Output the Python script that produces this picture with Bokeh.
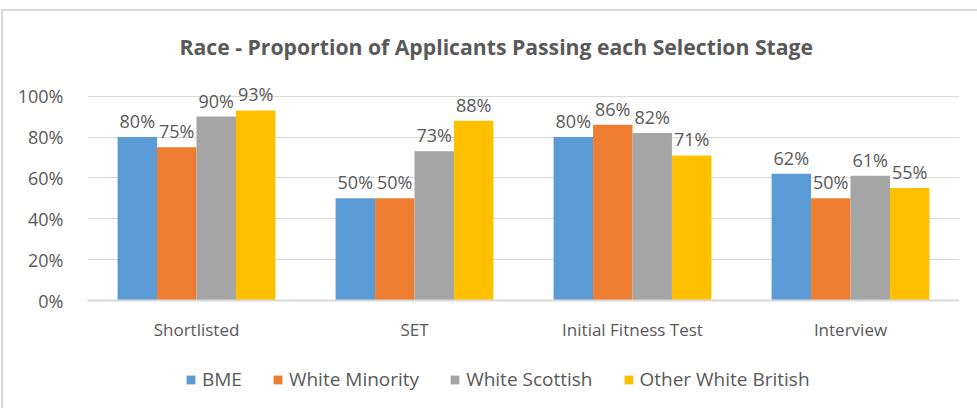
from bokeh.plotting import figure
from bokeh.layouts import column
from bokeh.models import ColumnDataSource, FactorRange, Legend, LegendItem, FixedTicker, NumeralTickFormatter
from bokeh.transform import dodge
from bokeh.core.properties import value
from bokeh.embed import file_html
from bokeh.resources import INLINE

categories = ["Shortlisted", "SET", "Initial Fitness Test", "Interview"]
series_names = ["BME", "White Minority", "White Scottish", "Other White British"]
bme = [0.80, 0.50, 0.80, 0.62]
white_minority = [0.75, 0.50, 0.86, 0.50]
white_scottish = [0.90, 0.73, 0.82, 0.61]
other_white_british = [0.93, 0.88, 0.71, 0.55]
colors = ["#5B9BD5", "#ED7D31", "#A5A5A5", "#FFC000"]

FONT = "Open Sans"
TXT = "#595959"

series = [bme, white_minority, white_scottish, other_white_british]
data = {"cat": categories}
keys = ["s0", "s1", "s2", "s3"]
for k, s in zip(keys, series):
    data[k] = s
    data[k + "_lab"] = ["%d%%" % round(v * 100) for v in s]
source = ColumnDataSource(data)

p = figure(x_range=FactorRange(*categories), y_range=(0, 1.15),
           frame_width=872, frame_height=235, output_backend="svg", toolbar_location=None,
           min_border_left=84, min_border_right=18, min_border_top=54, min_border_bottom=50)

p.title.text = "Race - Proportion of Applicants Passing each Selection Stage"
p.title.align = "left"
p.title.offset = 92
p.title.text_font = FONT
p.title.text_font_size = "21.2px"
p.title.text_font_style = "bold"
p.title.text_color = TXT
p.title.standoff = 10

bw = 0.181
offsets = [-1.5 * bw, -0.5 * bw, 0.5 * bw, 1.5 * bw]
for k, name, col, off in zip(keys, series_names, colors, offsets):
    p.vbar(x=dodge("cat", off, range=p.x_range), top=k, width=bw, source=source,
           fill_color=col, line_color=None)
    p.text(x=dodge("cat", off, range=p.x_range), y=k, text=k + "_lab", source=source,
           text_align="center", text_baseline="alphabetic", y_offset=-16,
           text_font=value(FONT), text_font_size="18px", text_color=TXT)

p.outline_line_color = None
p.xgrid.grid_line_color = None
p.ygrid.grid_line_color = "#D9D9D9"
p.ygrid.grid_line_width = 1
p.yaxis.ticker = FixedTicker(ticks=[0, 0.2, 0.4, 0.6, 0.8, 1.0])
p.yaxis.formatter = NumeralTickFormatter(format="0%")
p.yaxis.axis_line_color = None
p.yaxis.major_tick_line_color = None
p.yaxis.minor_tick_line_color = None
p.yaxis.major_label_standoff = 18
p.xaxis.axis_line_color = "#D9D9D9"
p.xaxis.axis_line_width = 2
p.xaxis.major_tick_line_color = None
p.xaxis.major_label_standoff = 11
p.xaxis.major_label_text_font_size = "17px"
p.yaxis.major_label_text_font_size = "18px"
for ax in (p.xaxis, p.yaxis):
    ax.major_label_text_font = FONT
    ax.major_label_text_color = TXT

# legend strip (proxy bars lie outside the visible range; only their legend swatches show)
lg = figure(frame_width=974, frame_height=58, x_range=(0, 1), y_range=(0, 1),
            output_backend="svg", toolbar_location=None,
            x_axis_location=None, y_axis_location=None,
            min_border_left=0, min_border_right=0, min_border_top=0, min_border_bottom=0,
            outline_line_color=None)
lg.grid.visible = False
proxy = ColumnDataSource(dict(x=[-5.0], top=[-5.0]))
items = []
for name, col in zip(series_names, colors):
    r = lg.vbar(x="x", top="top", width=0.1, source=proxy, fill_color=col, line_color=None)
    items.append(LegendItem(label=name, renderers=[r]))
legend = Legend(items=items, orientation="horizontal", location=(182, 16),
                glyph_width=11, glyph_height=11, label_standoff=6, spacing=30,
                padding=4, margin=0, border_line_color=None, background_fill_alpha=0,
                label_text_font=FONT, label_text_font_size="19px", label_text_color=TXT)
lg.add_layout(legend, "center")

layout = column(p, lg, spacing=0,
                styles={"margin-top": "9px", "margin-left": "1px",
                        "border-top": "2px solid #D9D9D9", "border-left": "2px solid #D9D9D9"})

open("out.html", "w").write(file_html(layout, INLINE))
